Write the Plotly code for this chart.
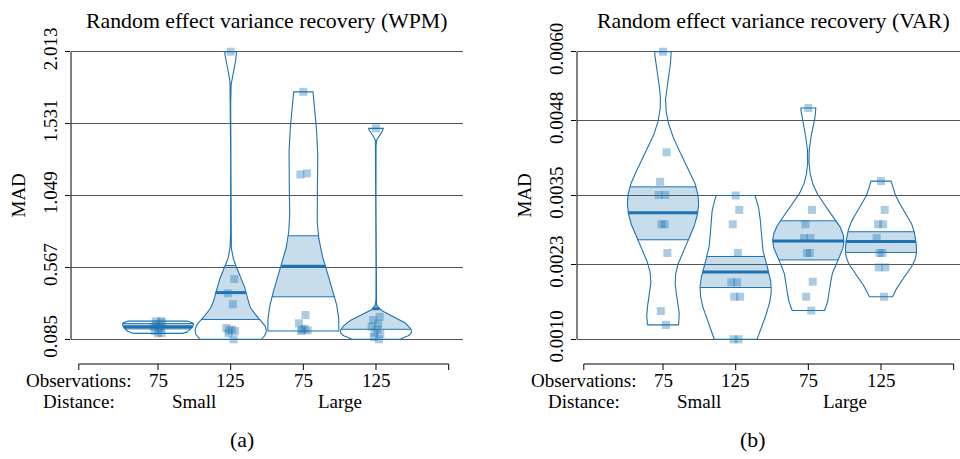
import numpy as np
import plotly.graph_objects as go

# ---------------- data ----------------
observations = ["75", "125", "75", "125"]
distance = ["Small", "Large"]

wpm_values = [
    [0.125, 0.128, 0.140, 0.155, 0.168, 0.170, 0.185, 0.198, 0.205, 0.207],
    [2.013, 0.489, 0.393, 0.320, 0.160, 0.150, 0.145, 0.140, 0.125, 0.085],
    [1.744, 1.197, 1.190, 0.248, 0.192, 0.155, 0.150, 0.145, 0.141],
    [1.499, 0.236, 0.214, 0.190, 0.170, 0.150, 0.130, 0.120, 0.100, 0.085],
]
wpm_mean = [0.169, 0.398, 0.574, 0.290]
wpm_band_lo = [0.155, 0.218, 0.370, 0.152]
wpm_band_hi = [0.190, 0.580, 0.779, 0.310]
wpm_ticks = [0.085, 0.567, 1.049, 1.531, 2.013]

var_values = [
    [0.00600, 0.00425, 0.00374, 0.00351, 0.00351, 0.00300, 0.00300, 0.00250, 0.00149, 0.00125],
    [0.00350, 0.00325, 0.00300, 0.00250, 0.00199, 0.00199, 0.00174, 0.00174, 0.00100, 0.00100],
    [0.00502, 0.00325, 0.00300, 0.00276, 0.00276, 0.00250, 0.00250, 0.00200, 0.00174, 0.00150],
    [0.00375, 0.00325, 0.00300, 0.00300, 0.00276, 0.00250, 0.00250, 0.00225, 0.00225, 0.00174],
]
var_mean = [0.00320, 0.00217, 0.00271, 0.00270]
var_band_lo = [0.00273, 0.00190, 0.00238, 0.00251]
var_band_hi = [0.00365, 0.00244, 0.00306, 0.00287]
var_ticks = [0.0010, 0.0023, 0.0035, 0.0048, 0.0060]

# ---------------- style ----------------
W, H = 960, 459
FONT = "Liberation Serif"
FS = 19
FS_TITLE = 21.8
BLUE = "rgb(31,114,178)"
FILL = "rgba(31,119,180,0.25)"
PT = "rgba(31,119,180,0.38)"
GRID = "#555555"
HALF_W = 0.49
JITTER = [0.0, 0.05, -0.04, 0.03, -0.06, 0.02, -0.02, 0.06, -0.03, 0.04]


def fx(p):
    return p / W


def fy(p):
    return 1 - p / H


def nrd0(x):
    x = np.asarray(x, float)
    sd = x.std(ddof=1)
    q75, q25 = np.percentile(x, [75, 25])
    lo = min(sd, (q75 - q25) / 1.34)
    if lo <= 0:
        lo = sd if sd > 0 else 1.0
    return 0.9 * lo * len(x) ** -0.2


def bean(vals, n=300):
    v = np.asarray(vals, float)
    bw = nrd0(v)
    ys = np.linspace(v.min(), v.max(), n)
    d = np.exp(-0.5 * ((ys[:, None] - v[None, :]) / bw) ** 2).sum(axis=1)
    return ys, HALF_W * d / d.max()


# panel geometry in pixels
TOP_PX, BOT_PX = 40, 352
Y_DOM = [fy(BOT_PX), fy(TOP_PX)]
SPACING = 72.67

fig = go.Figure()


def panel(k, values, means, lo_b, hi_b, ticks, ticktext, left_px, right_px, pos1_px,
          title, title_x, caption, caption_x):
    xa = "x" if k == 1 else f"x{k}"
    ya = "y" if k == 1 else f"y{k}"
    # y scale: lowest tick at 339.3 px, highest tick at 51.7 px
    t0, t1 = ticks[0], ticks[-1]
    per_px = (t1 - t0) / (339.3 - 51.7)
    yr = [t0 - (BOT_PX - 339.3) * per_px, t0 + (339.3 - TOP_PX) * per_px]
    x_right = min(right_px, W)
    xr = [1 + (left_px - pos1_px) / SPACING, 1 + (x_right - pos1_px) / SPACING]

    for g, vals in enumerate(values):
        pos = g + 1
        ys, hw = bean(vals)
        # inference band, clipped to the bean
        m = (ys >= lo_b[g]) & (ys <= hi_b[g])
        by = np.concatenate([[lo_b[g]], ys[m], [hi_b[g]]])
        bh = np.interp(by, ys, hw)
        fig.add_trace(go.Scatter(
            x=np.concatenate([pos - bh, (pos + bh)[::-1]]),
            y=np.concatenate([by, by[::-1]]),
            fill="toself", fillcolor=FILL, mode="lines", line=dict(width=0),
            xaxis=xa, yaxis=ya, hoverinfo="skip", showlegend=False))
        for yb in (lo_b[g], hi_b[g]):
            h = np.interp(yb, ys, hw)
            fig.add_trace(go.Scatter(x=[pos - h, pos + h], y=[yb, yb], mode="lines",
                                     line=dict(color=BLUE, width=1), xaxis=xa, yaxis=ya,
                                     hoverinfo="skip", showlegend=False))
        # bean outline
        fig.add_trace(go.Scatter(
            x=np.concatenate([pos - hw, (pos + hw)[::-1], [pos - hw[0]]]),
            y=np.concatenate([ys, ys[::-1], [ys[0]]]),
            mode="lines", line=dict(color=BLUE, width=1.1),
            xaxis=xa, yaxis=ya, hoverinfo="skip", showlegend=False))
        # average line
        h = np.interp(means[g], ys, hw)
        fig.add_trace(go.Scatter(x=[pos - h, pos + h], y=[means[g]] * 2, mode="lines",
                                 line=dict(color=BLUE, width=3), xaxis=xa, yaxis=ya,
                                 hoverinfo="skip", showlegend=False))
        # raw points
        fig.add_trace(go.Scatter(
            x=[pos + JITTER[i % len(JITTER)] for i in range(len(vals))], y=vals,
            mode="markers", marker=dict(symbol="square", size=8, color=PT, line=dict(width=0)),
            xaxis=xa, yaxis=ya, cliponaxis=False, hoverinfo="skip", showlegend=False))

    fig.update_layout({
        ("xaxis" if k == 1 else f"xaxis{k}"): dict(
            domain=[fx(left_px), fx(x_right)], range=xr, visible=False,
            anchor=ya, automargin=False),
        ("yaxis" if k == 1 else f"yaxis{k}"): dict(
            domain=Y_DOM, range=yr, anchor=xa, tickvals=ticks, ticktext=ticktext,
            tickangle=-90, ticks="outside", ticklen=5, tickcolor="black",
            showgrid=True, gridcolor=GRID, gridwidth=1.4, zeroline=False,
            showline=False, automargin=False,
            tickfont=dict(family=FONT, size=FS, color="black")),
    })

    # y axis line over tick range
    fig.add_shape(type="line", xref=f"{xa} domain", yref=ya, x0=0, x1=0, y0=t0, y1=t1,
                  line=dict(color="black", width=1))
    # bottom axis with group ticks
    ax0, ax1 = -0.09, 5.0
    fig.add_shape(type="line", xref=xa, yref="paper", x0=ax0, x1=ax1, y0=fy(364), y1=fy(364),
                  line=dict(color="black", width=1))
    for t in [ax0, 1, 2, 3, 4, ax1]:
        fig.add_shape(type="line", xref=xa, yref="paper", x0=t, x1=t, y0=fy(364), y1=fy(370),
                      line=dict(color="black", width=1))

    def txt(text, x, y, xref="paper", angle=0, size=FS):
        fig.add_annotation(text=text, x=x, y=y, xref=xref, yref="paper", showarrow=False,
                           xanchor="center", yanchor="middle", textangle=angle,
                           font=dict(family=FONT, size=size, color="black"))

    for g, lab in enumerate(observations):
        txt(lab, g + 1, fy(380), xref=xa)
    txt(distance[0], 1.5, fy(401), xref=xa)
    txt(distance[1], 3.5, fy(401), xref=xa)
    txt("Observations:", ax0, fy(380), xref=xa)
    txt("Distance:", ax0, fy(401), xref=xa)
    txt(title, fx(title_x), fy(21), size=FS_TITLE)
    txt(caption, fx(caption_x), fy(440), size=FS_TITLE)
    txt("MAD", fx(left_px - 53), fy(195.5), angle=-90)


panel(1, wpm_values, wpm_mean, wpm_band_lo, wpm_band_hi, wpm_ticks,
      [f"{t:.3f}" for t in wpm_ticks], 71, 463, 158,
      "Random effect variance recovery (WPM)", 267, "(a)", 242)
panel(2, var_values, var_mean, var_band_lo, var_band_hi, var_ticks,
      [f"{t:.4f}" for t in var_ticks], 577, 969, 663,
      "Random effect variance recovery (VAR)", 773, "(b)", 752)

fig.update_layout(width=W, height=H, margin=dict(l=0, r=0, t=0, b=0), autosize=False,
                  paper_bgcolor="white", plot_bgcolor="white")

fig.write_html("out.html")
